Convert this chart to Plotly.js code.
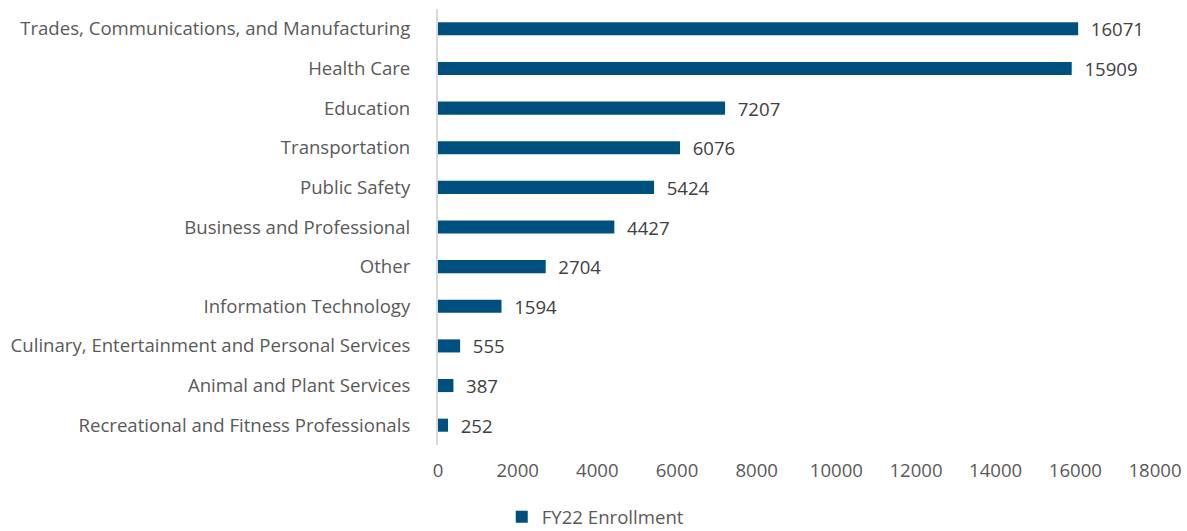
<!DOCTYPE html>
<html><head><meta charset="utf-8">
<script src="https://cdn.plot.ly/plotly-3.0.1.min.js"></script>
<style>html,body{margin:0;padding:0;background:#fff}#c{width:1187px;height:531px}</style>
</head><body><div id="c"></div>
<script>
const categories = ["Recreational and Fitness Professionals","Animal and Plant Services","Culinary, Entertainment and Personal Services","Information Technology","Other","Business and Professional","Public Safety","Transportation","Education","Health Care","Trades, Communications, and Manufacturing"];
const enrollment = [252,387,555,1594,2704,4427,5424,6076,7207,15909,16071];
const seriesName = "FY22 Enrollment";
const xTicks = [0,2000,4000,6000,8000,10000,12000,14000,16000,18000];
const xTickLabels = ["0","2000","4000","6000","8000","10000","12000","14000","16000","18000"];

const font = "Open Sans, sans-serif";
const fs = 18.6;
Plotly.newPlot('c', [{
  type:'bar', orientation:'h', y:categories, x:enrollment, name:seriesName,
  marker:{color:'#00507f'}, width:0.33,
  text: enrollment.map(v=>'  '+v), textposition:'outside', cliponaxis:false, constraintext:'none',
  textfont:{family:font,size:fs,color:'#404040'}, hoverinfo:'x+y'
}], {
  width:1187, height:531, margin:{l:438,r:32,t:9,b:86,autoexpand:false},
  paper_bgcolor:'#fff', plot_bgcolor:'#fff',
  font:{family:font,size:fs,color:'#595959'},
  xaxis:{range:[0,18000], tickvals:xTicks, ticktext:xTickLabels, tickangle:0, automargin:false, showgrid:false, zeroline:false, showline:false,
    ticks:'outside', ticklen:9, tickcolor:'rgba(0,0,0,0)', tickfont:{family:font,size:fs,color:'#595959'}},
  yaxis:{automargin:false, showgrid:false, zeroline:false, showline:true, linecolor:'#d9d9d9', linewidth:2,
    ticks:'outside', ticklen:22, tickcolor:'rgba(0,0,0,0)', tickfont:{family:font,size:fs,color:'#595959'}},
  showlegend:true,
  legend:{orientation:'h', x:0.22, xanchor:'center', y:-0.122, yanchor:'top',
    font:{family:font,size:fs,color:'#595959'}}
}, {displayModeBar:false, staticPlot:true});
</script></body></html>
